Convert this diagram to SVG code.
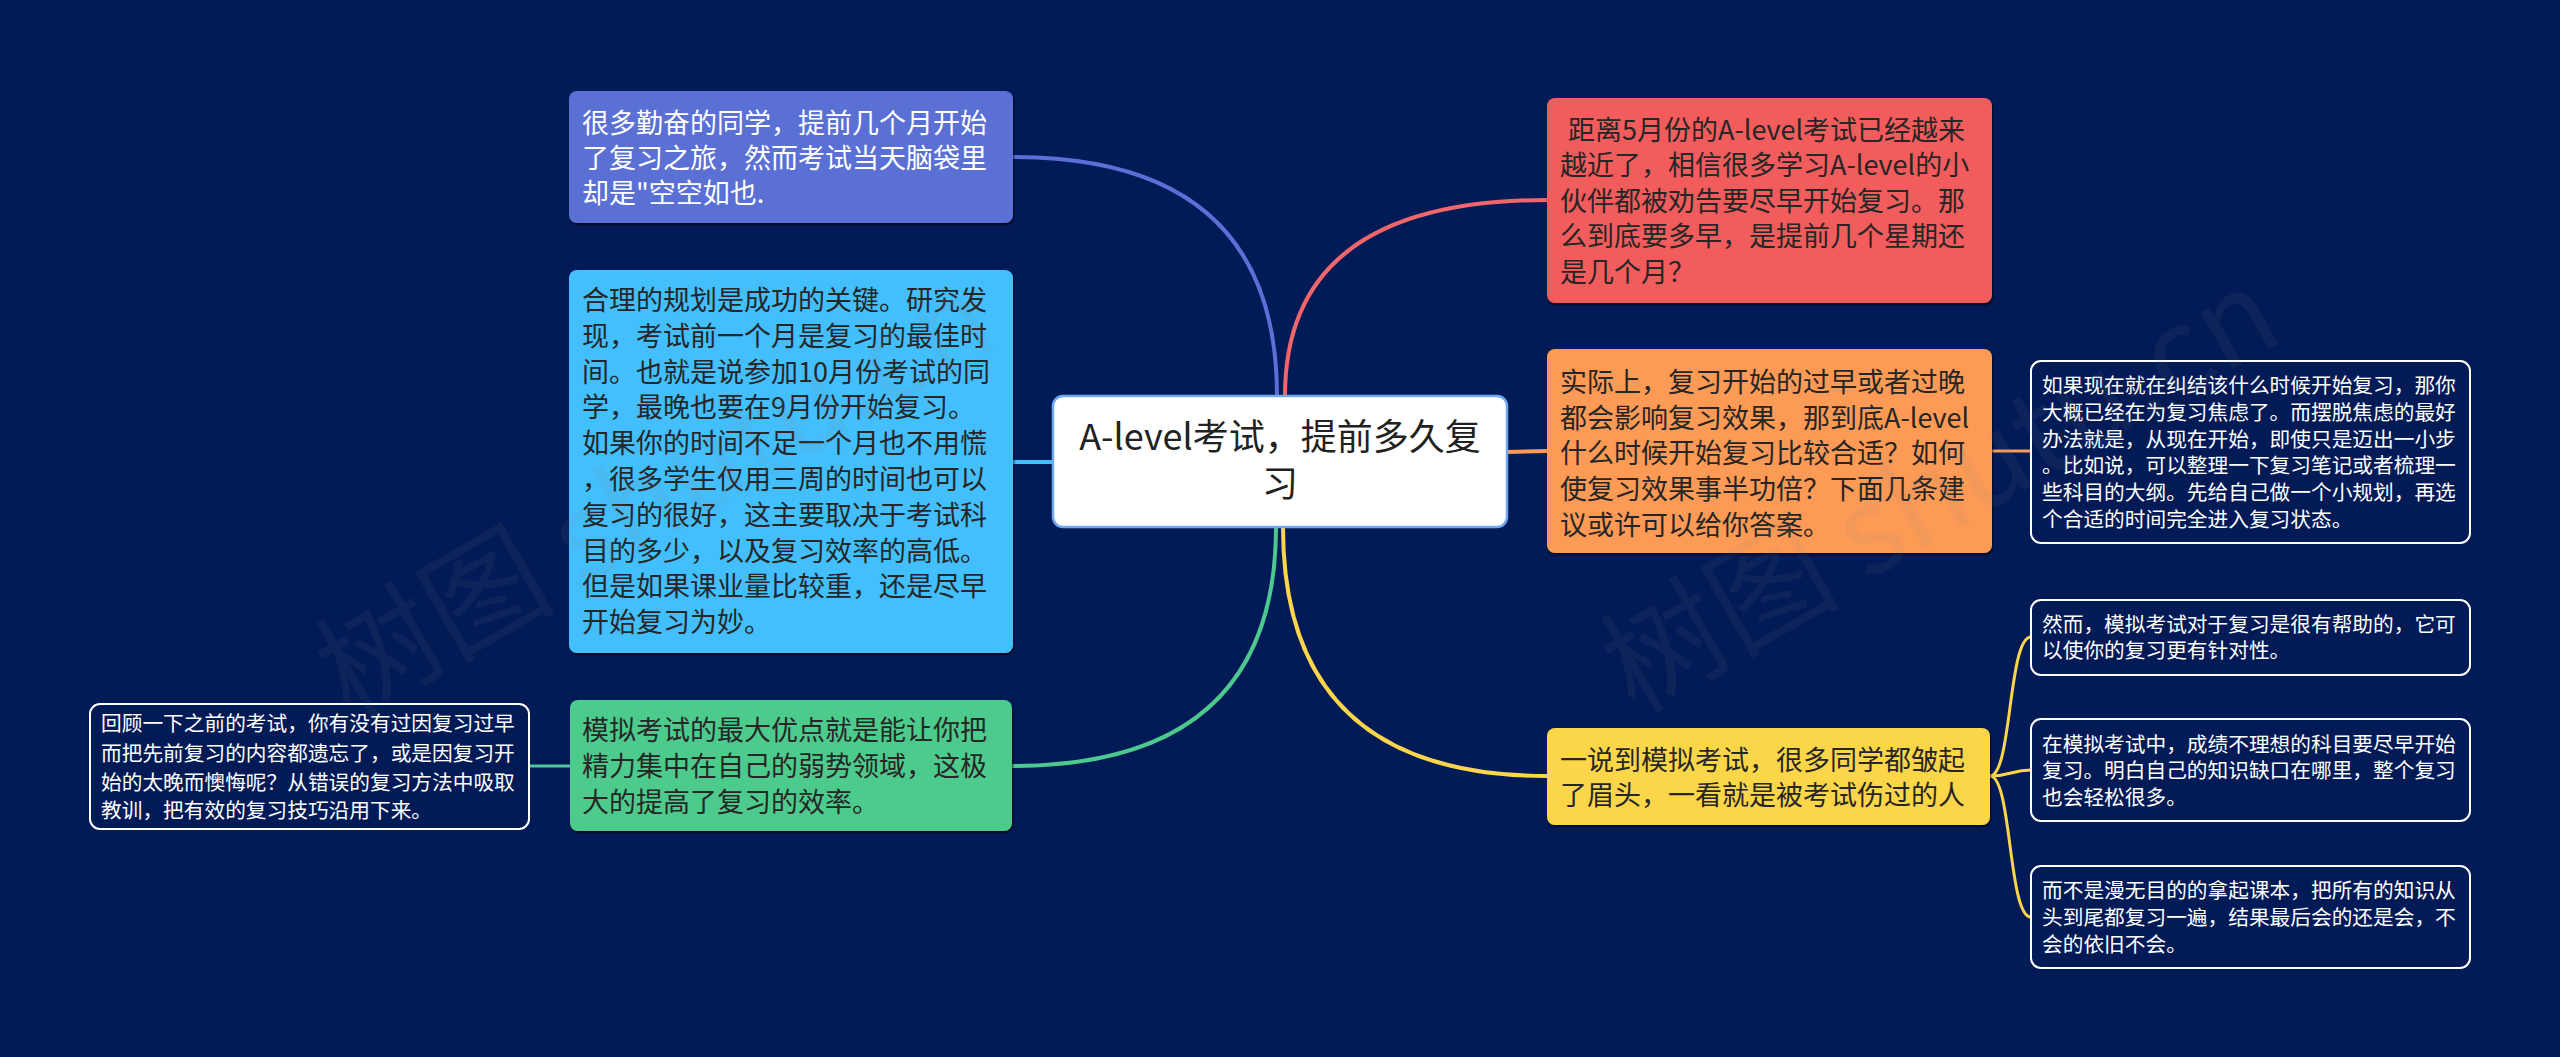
<svg xmlns="http://www.w3.org/2000/svg" width="2560" height="1057" viewBox="0 0 2560 1057">
<style>
text{font-family:"Noto Sans CJK SC","Noto Sans",sans-serif;}
.t27{font-size:27px;}
.t21{font-size:20.7px;fill:#ffffff;}
.dk{fill:#262626;}
.wt{fill:#ffffff;}
.box{filter:url(#sh);}
.sub{fill:#021b57;stroke:#ffffff;stroke-width:2;}
.con{fill:none;stroke-linecap:round;}
.wm{font-size:120px;fill:#888888;fill-opacity:0.09;font-family:"Noto Sans CJK SC","Liberation Serif",serif;}
</style>
<defs>
<filter id="sh" x="-5%" y="-5%" width="110%" height="115%">
<feDropShadow dx="1" dy="2" stdDeviation="1.2" flood-color="#000000" flood-opacity="0.7"/>
</filter>
</defs>
<rect width="2560" height="1057" fill="#021b57"/>
<g id="connectors">
<path class="con" d="M1277,396 Q1277,157 1013,157" stroke="#5b6fd6" stroke-width="4"/>
<path class="con" d="M1285,396 Q1285,200 1547,200" stroke="#f0666a" stroke-width="4"/>
<path class="con" d="M1013,462 L1053,462" stroke="#42bffc" stroke-width="4"/>
<path class="con" d="M1507,452 L1547,451" stroke="#fd9a55" stroke-width="4"/>
<path class="con" d="M1276,527 Q1276,766 1012,766" stroke="#4dc98f" stroke-width="4"/>
<path class="con" d="M1283,527 Q1283,776 1547,776" stroke="#fcd64a" stroke-width="4"/>
<path class="con" d="M529,766 L570,766" stroke="#4fc8a0" stroke-width="3"/>
<path class="con" d="M1992,451 L2031,451" stroke="#fd9a55" stroke-width="3"/>
<path class="con" d="M1990,776 C2012,776 2008,637 2031,637" stroke="#fcd64a" stroke-width="3"/>
<path class="con" d="M1990,776 C2010,776 2012,770 2031,770" stroke="#fcd64a" stroke-width="3"/>
<path class="con" d="M1990,776 C2012,776 2008,917 2031,917" stroke="#fcd64a" stroke-width="3"/>
</g>
<g id="center">
<rect x="1053" y="396" width="454" height="131" rx="10" fill="#ffffff" stroke="#6fa8f0" stroke-width="2.5"/>
<text x="1280" y="450" text-anchor="middle" font-size="36" fill="#222222">A-level考试，提前多久复</text>
<text x="1280" y="497" text-anchor="middle" font-size="36" fill="#222222">习</text>
</g>
<g id="node-blue">
<rect class="box" x="569" y="91" width="444" height="132" rx="8" fill="#5a6fd5"/>
<text class="t27 wt" x="582" y="133">很多勤奋的同学，提前几个月开始</text>
<text class="t27 wt" x="582" y="168">了复习之旅，然而考试当天脑袋里</text>
<text class="t27 wt" x="582" y="203">却是"空空如也.</text>
</g>
<g id="node-lightblue">
<rect class="box" x="569" y="270" width="444" height="383" rx="8" fill="#42bffc"/>
<text class="t27 dk" x="582" y="310">合理的规划是成功的关键。研究发</text>
<text class="t27 dk" x="582" y="346">现，考试前一个月是复习的最佳时</text>
<text class="t27 dk" x="582" y="382">间。也就是说参加10月份考试的同</text>
<text class="t27 dk" x="582" y="417">学，最晚也要在9月份开始复习。</text>
<text class="t27 dk" x="582" y="453">如果你的时间不足一个月也不用慌</text>
<text class="t27 dk" x="582" y="489">，很多学生仅用三周的时间也可以</text>
<text class="t27 dk" x="582" y="525">复习的很好，这主要取决于考试科</text>
<text class="t27 dk" x="582" y="561">目的多少，以及复习效率的高低。</text>
<text class="t27 dk" x="582" y="596">但是如果课业量比较重，还是尽早</text>
<text class="t27 dk" x="582" y="632">开始复习为妙。</text>
</g>
<g id="node-green">
<rect class="box" x="570" y="700" width="442" height="131" rx="8" fill="#4ecb8d"/>
<text class="t27 dk" x="582" y="740">模拟考试的最大优点就是能让你把</text>
<text class="t27 dk" x="582" y="776">精力集中在自己的弱势领域，这极</text>
<text class="t27 dk" x="582" y="812">大的提高了复习的效率。</text>
</g>
<g id="node-review">
<rect class="sub" x="90" y="704" width="439" height="125" rx="10"/>
<text class="t21" x="101" y="731">回顾一下之前的考试，你有没有过因复习过早</text>
<text class="t21" x="101" y="761">而把先前复习的内容都遗忘了，或是因复习开</text>
<text class="t21" x="101" y="790">始的太晚而懊悔呢？从错误的复习方法中吸取</text>
<text class="t21" x="101" y="818">教训，把有效的复习技巧沿用下来。</text>
</g>
<g id="node-red">
<rect class="box" x="1547" y="98" width="445" height="205" rx="8" fill="#f25b5c"/>
<text class="t27 dk" x="1568" y="140">距离5月份的A-level考试已经越来</text>
<text class="t27 dk" x="1560" y="175">越近了，相信很多学习A-level的小</text>
<text class="t27 dk" x="1560" y="211">伙伴都被劝告要尽早开始复习。那</text>
<text class="t27 dk" x="1560" y="246">么到底要多早，是提前几个星期还</text>
<text class="t27 dk" x="1560" y="282">是几个月？</text>
</g>
<g id="node-orange">
<rect class="box" x="1547" y="349" width="445" height="204" rx="8" fill="#fd9a55"/>
<text class="t27 dk" x="1560" y="392">实际上，复习开始的过早或者过晚</text>
<text class="t27 dk" x="1560" y="428">都会影响复习效果，那到底A-level</text>
<text class="t27 dk" x="1560" y="463">什么时候开始复习比较合适？如何</text>
<text class="t27 dk" x="1560" y="499">使复习效果事半功倍？下面几条建</text>
<text class="t27 dk" x="1560" y="535">议或许可以给你答案。</text>
</g>
<g id="node-orange-child">
<rect class="sub" x="2031" y="361" width="439" height="182" rx="10"/>
<text class="t21" x="2042" y="393">如果现在就在纠结该什么时候开始复习，那你</text>
<text class="t21" x="2042" y="420">大概已经在为复习焦虑了。而摆脱焦虑的最好</text>
<text class="t21" x="2042" y="447">办法就是，从现在开始，即使只是迈出一小步</text>
<text class="t21" x="2042" y="473">。比如说，可以整理一下复习笔记或者梳理一</text>
<text class="t21" x="2042" y="500">些科目的大纲。先给自己做一个小规划，再选</text>
<text class="t21" x="2042" y="527">个合适的时间完全进入复习状态。</text>
</g>
<g id="node-yellow">
<rect class="box" x="1547" y="728" width="443" height="97" rx="8" fill="#fcd64a"/>
<text class="t27 dk" x="1560" y="770">一说到模拟考试，很多同学都皱起</text>
<text class="t27 dk" x="1560" y="805">了眉头，一看就是被考试伤过的人</text>
</g>
<g id="node-yellow-child1">
<rect class="sub" x="2031" y="600" width="439" height="75" rx="10"/>
<text class="t21" x="2042" y="632">然而，模拟考试对于复习是很有帮助的，它可</text>
<text class="t21" x="2042" y="658">以使你的复习更有针对性。</text>
</g>
<g id="node-yellow-child2">
<rect class="sub" x="2031" y="719" width="439" height="102" rx="10"/>
<text class="t21" x="2042" y="752">在模拟考试中，成绩不理想的科目要尽早开始</text>
<text class="t21" x="2042" y="778">复习。明白自己的知识缺口在哪里，整个复习</text>
<text class="t21" x="2042" y="805">也会轻松很多。</text>
</g>
<g id="node-yellow-child3">
<rect class="sub" x="2031" y="866" width="439" height="102" rx="10"/>
<text class="t21" x="2042" y="898">而不是漫无目的的拿起课本，把所有的知识从</text>
<text class="t21" x="2042" y="925">头到尾都复习一遍，结果最后会的还是会，不</text>
<text class="t21" x="2042" y="952">会的依旧不会。</text>
</g>
<g id="watermarks">
<text class="wm" x="350" y="720" transform="rotate(-30 350 720)">树图 shutu.cn</text>
<text class="wm" x="1635" y="715" transform="rotate(-30 1635 715)">树图 shutu.cn</text>
</g>
</svg>
